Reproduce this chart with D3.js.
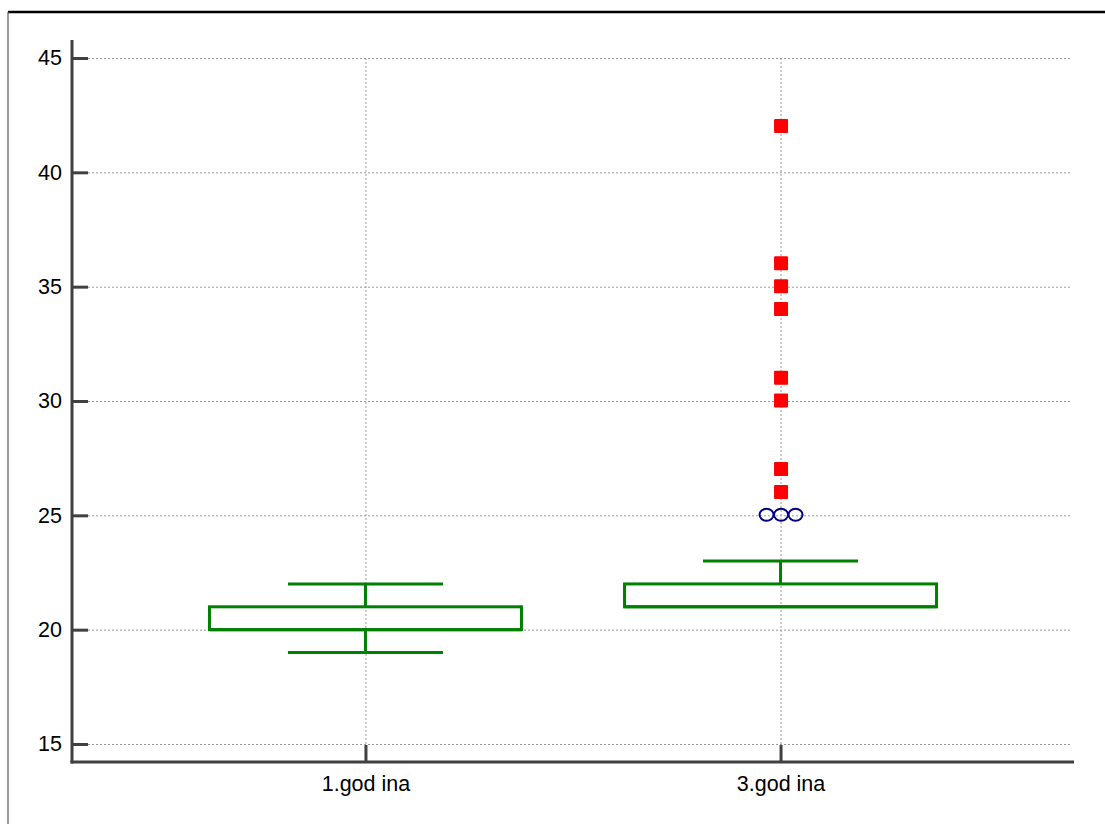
<!DOCTYPE html>
<html>
<head>
<meta charset="utf-8">
<script src="https://cdn.jsdelivr.net/npm/d3@7"></script>
<style>
  html, body { margin: 0; padding: 0; background: #fff; }
  svg { display: block; font-family: 'Liberation Sans', Arial, sans-serif; }
</style>
</head>
<body>
<div id="chart"></div>
<script>
// categories and box stats
const categories = ['1.god ina', '3.god ina'];
const whiskerLow = [19, 21];
const quartile1 = [20, 21];
const medians = [20, 21];
const quartile3 = [21, 22];
const whiskerHigh = [22, 23];
// outliers on the second group
const nearOutliers = [25, 25, 25];
const farOutliers = [26, 27, 30, 31, 34, 35, 36, 42];
const yTicks = [15, 20, 25, 30, 35, 40, 45];

const width = 1105;
const height = 824;
const axisColor = '#404040';
const green = '#008000';

const svg = d3.select('#chart')
  .append('svg')
  .attr('width', width)
  .attr('height', height);

// outer frame (top + left edge only visible)
svg.append('line')
  .attr('x1', 8).attr('x2', width).attr('y1', 12).attr('y2', 12)
  .attr('stroke', '#000').attr('stroke-width', 2.5);
svg.append('line')
  .attr('x1', 8).attr('x2', 8).attr('y1', 12).attr('y2', height)
  .attr('stroke', '#555').attr('stroke-width', 1.2);

const y = d3.scaleLinear().domain([15, 45]).range([744, 58]);
const x = d3.scalePoint().domain(categories).range([72, 1074]).padding(0.707);

const plotLeft = 72, plotRight = 1074, plotBottom = 762, plotTop = 40;

// grid
const grid = svg.append('g')
  .attr('stroke', '#9a9a9a')
  .attr('stroke-width', 1)
  .attr('stroke-dasharray', '2,2');
grid.selectAll('.hg')
  .data(yTicks)
  .enter()
  .append('line')
  .attr('x1', 88).attr('x2', plotRight - 2)
  .attr('y1', d => y(d) + 0.5).attr('y2', d => y(d) + 0.5);
grid.selectAll('.vg')
  .data(categories)
  .enter()
  .append('line')
  .attr('x1', d => x(d) + 0.5).attr('x2', d => x(d) + 0.5)
  .attr('y1', y(45)).attr('y2', y(15));

// y axis
const yAxis = svg.append('g')
  .attr('transform', `translate(${plotLeft},0)`)
  .call(d3.axisLeft(y).tickValues(yTicks).tickSize(-16).tickPadding(10));
yAxis.select('.domain').remove();
yAxis.selectAll('.tick line').attr('stroke', axisColor).attr('stroke-width', 3);
yAxis.selectAll('.tick text')
  .attr('fill', '#000')
  .style('font-size', '21.5px');

// x axis
const xAxis = svg.append('g')
  .attr('transform', `translate(0,${plotBottom})`)
  .call(d3.axisBottom(x).tickSize(-17).tickPadding(14));
xAxis.select('.domain').remove();
xAxis.selectAll('.tick line').attr('stroke', axisColor).attr('stroke-width', 3);
xAxis.selectAll('.tick text')
  .attr('fill', '#000')
  .style('font-size', '21.5px');

// axis lines
svg.append('line')
  .attr('x1', plotLeft).attr('x2', plotLeft).attr('y1', plotTop).attr('y2', plotBottom + 1.5)
  .attr('stroke', axisColor).attr('stroke-width', 3);
svg.append('line')
  .attr('x1', plotLeft - 1.5).attr('x2', plotRight).attr('y1', plotBottom).attr('y2', plotBottom)
  .attr('stroke', axisColor).attr('stroke-width', 3);

// boxes
const boxW = 312;
const capW = 155;
const boxes = svg.append('g')
  .attr('stroke', green)
  .attr('stroke-width', 3)
  .attr('fill', 'none');

categories.forEach((c, i) => {
  const cx = x(c);
  const g = boxes.append('g');
  g.append('rect')
    .attr('x', cx - boxW / 2)
    .attr('y', y(quartile3[i]))
    .attr('width', boxW)
    .attr('height', y(quartile1[i]) - y(quartile3[i]));
  g.append('line')
    .attr('x1', cx - boxW / 2).attr('x2', cx + boxW / 2)
    .attr('y1', y(medians[i])).attr('y2', y(medians[i]));
  // whiskers
  if (whiskerHigh[i] > quartile3[i]) {
    g.append('line').attr('x1', cx).attr('x2', cx)
      .attr('y1', y(quartile3[i])).attr('y2', y(whiskerHigh[i]));
    g.append('line').attr('x1', cx - capW / 2).attr('x2', cx + capW / 2)
      .attr('y1', y(whiskerHigh[i])).attr('y2', y(whiskerHigh[i]));
  }
  if (whiskerLow[i] < quartile1[i]) {
    g.append('line').attr('x1', cx).attr('x2', cx)
      .attr('y1', y(quartile1[i])).attr('y2', y(whiskerLow[i]));
    g.append('line').attr('x1', cx - capW / 2).attr('x2', cx + capW / 2)
      .attr('y1', y(whiskerLow[i])).attr('y2', y(whiskerLow[i]));
  }
});

// outliers for 3.god ina
const cx2 = x(categories[1]);
const offsets = [-14.5, 0, 14.5];
svg.selectAll('.near')
  .data(nearOutliers)
  .enter()
  .append('ellipse')
  .attr('cx', (d, i) => cx2 + offsets[i] + 0.5)
  .attr('cy', d => y(d) - 0.5)
  .attr('rx', 7)
  .attr('ry', 6)
  .attr('fill', 'none')
  .attr('stroke', '#000080')
  .attr('stroke-width', 2);

const sq = 14;
svg.selectAll('.far')
  .data(farOutliers)
  .enter()
  .append('rect')
  .attr('x', cx2 - sq / 2 + 0.5)
  .attr('y', d => y(d) - sq / 2 - 0.5)
  .attr('width', sq)
  .attr('height', sq)
  .attr('rx', 1)
  .attr('fill', '#ff0000');
</script>
</body>
</html>
